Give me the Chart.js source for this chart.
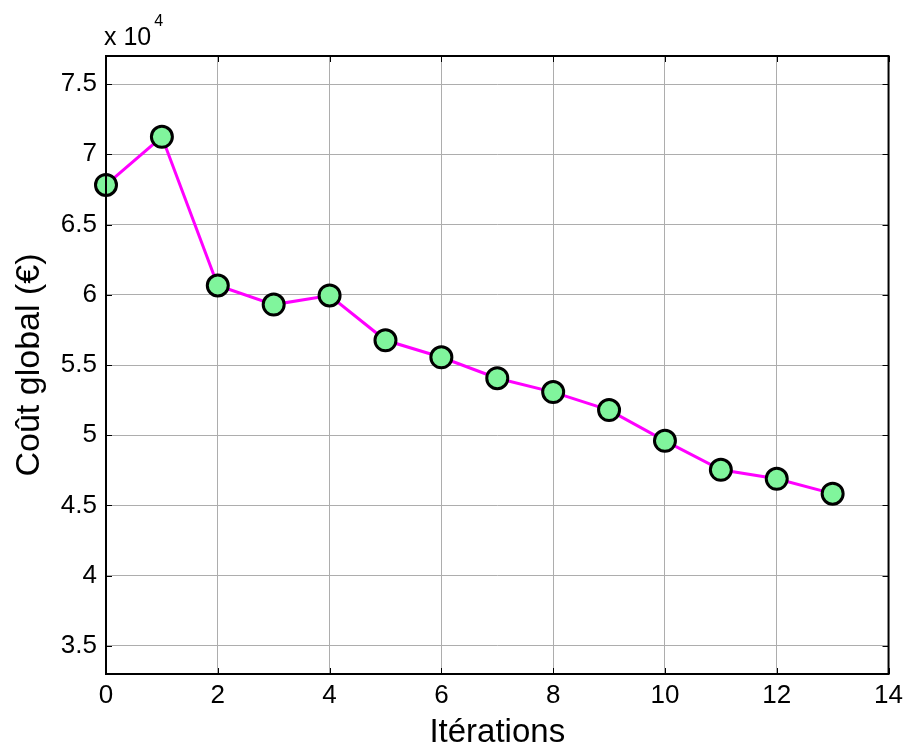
<!DOCTYPE html>
<html>
<head>
<meta charset="utf-8">
<script src="https://cdn.jsdelivr.net/npm/chart.js@4.4.1/dist/chart.umd.min.js"></script>
<style>
  html, body { margin: 0; padding: 0; background: #fff; }
  #wrap { width: 909px; height: 749px; }
</style>
</head>
<body>
<div id="wrap"><canvas id="myChart" width="909" height="749"></canvas></div>
<script>
const iterations = [0, 1, 2, 3, 4, 5, 6, 7, 8, 9, 10, 11, 12, 13]
const globalCost = [67820, 71250, 60660, 59300, 59950, 56760, 55550, 54060, 53070, 51790, 49600, 47540, 46900, 45840]
const yTicks = [35000, 40000, 45000, 50000, 55000, 60000, 65000, 70000, 75000]
const xTicks = [0, 2, 4, 6, 8, 10, 12, 14]

const boxPlugin = {
    id: 'box',
    afterDatasetsDraw(chart) {
        const ctx = chart.ctx
        const a = chart.chartArea
        const xs = chart.scales.x
        const ys = chart.scales.y
        ctx.save()
        // inward ticks like matlab
        ctx.strokeStyle = '#000'
        ctx.lineWidth = 1
        ctx.beginPath()
        xTicks.forEach(v => {
            const px = Math.round(xs.getPixelForValue(v)) + 0.5
            ctx.moveTo(px, a.bottom); ctx.lineTo(px, a.bottom - 6)
            ctx.moveTo(px, a.top); ctx.lineTo(px, a.top + 6)
        })
        yTicks.forEach(v => {
            const py = Math.round(ys.getPixelForValue(v)) + 0.5
            ctx.moveTo(a.left, py); ctx.lineTo(a.left + 6, py)
            ctx.moveTo(a.right, py); ctx.lineTo(a.right - 6, py)
        })
        ctx.stroke()
        ctx.lineWidth = 2
        ctx.strokeRect(a.left, a.top, a.right - a.left, a.bottom - a.top)
        // exponent label
        ctx.fillStyle = '#000'
        ctx.textBaseline = 'alphabetic'
        ctx.textAlign = 'left'
        ctx.font = '25px "Liberation Sans", Arial, sans-serif'
        ctx.fillText('x 10', 104, 45)
        const w = ctx.measureText('x 10').width
        ctx.font = '16px "Liberation Sans", Arial, sans-serif'
        ctx.fillText('4', 104 + w + 3, 26)
        ctx.restore()
    }
}

function render_chart() {
    const data = {
        datasets: [
            {
                data: iterations.map((x, i) => ({ x: x, y: globalCost[i] })),
                borderColor: '#ff00ff',
                borderWidth: 3,
                pointRadius: 10.5,
                pointBorderWidth: 3,
                pointBackgroundColor: '#80f59c',
                pointBorderColor: '#000',
                tension: 0,
                clip: false,
            },
        ],
    }
    const tickFont = { family: '"Liberation Sans", Arial, sans-serif', size: 26 }
    const titleFont = { family: '"Liberation Sans", Arial, sans-serif', size: 33, lineHeight: 1 }
    const config = {
        type: 'line',
        data: data,
        plugins: [boxPlugin],
        options: {
            responsive: false,
            animation: false,
            layout: { padding: { top: 56, right: 18, left: 0, bottom: 0 } },
            plugins: { legend: { display: false }, tooltip: { enabled: false } },
            scales: {
                x: {
                    type: 'linear',
                    min: 0,
                    max: 14,
                    afterBuildTicks: s => { s.ticks = xTicks.map(v => ({ value: v })) },
                    afterFit: s => { s.height = 75 },
                    grid: { color: '#adadad', lineWidth: 1, drawTicks: false },
                    border: { display: false },
                    ticks: { color: '#000', font: tickFont, padding: 6, maxRotation: 0 },
                    title: { display: true, text: 'Itérations', color: '#000', font: titleFont, padding: 0 },
                },
                y: {
                    min: 33000,
                    max: 77000,
                    afterBuildTicks: s => { s.ticks = yTicks.map(v => ({ value: v })) },
                    afterFit: s => { s.width = 106 },
                    grid: { color: '#adadad', lineWidth: 1, drawTicks: false },
                    border: { display: false },
                    ticks: { color: '#000', font: tickFont, padding: 9, callback: v => String(v / 10000) },
                    title: { display: true, text: 'Coût global (€)', color: '#000', font: { family: titleFont.family, size: 34, lineHeight: 1 }, padding: { top: 13, bottom: 0 } },
                },
            },
        },
    }
    const myChart = new Chart(document.getElementById('myChart'), config)
}
document.addEventListener('DOMContentLoaded', render_chart)
</script>
</body>
</html>
